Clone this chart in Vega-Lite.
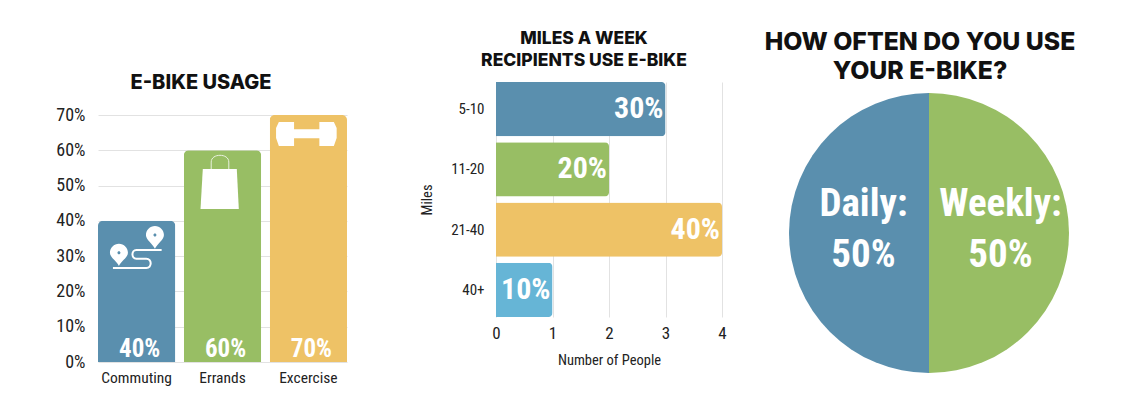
{
  "$schema": "https://vega.github.io/schema/vega-lite/v6.json",
  "padding": {"left": 55, "top": 29, "right": 0, "bottom": 30},
  "bounds": "flush",
  "spacing": 30,
  "background": "white",
  "resolve": {"scale": {"color": "independent"}},
  "datasets": {
    "usage": [
      {"Use": "Commuting", "Share": 0.4},
      {"Use": "Errands", "Share": 0.6},
      {"Use": "Excercise", "Share": 0.7}
    ],
    "miles": [
      {"Miles": "5-10", "People": 3, "Label": "30%"},
      {"Miles": "11-20", "People": 2, "Label": "20%"},
      {"Miles": "21-40", "People": 4, "Label": "40%"},
      {"Miles": "40+", "People": 1, "Label": "10%"}
    ],
    "often": [
      {"Often": "Weekly", "Share": 50, "Label": "Weekly:\n50%", "Rank": 1},
      {"Often": "Daily", "Share": 50, "Label": "Daily:\n50%", "Rank": 2}
    ]
  },
  "hconcat": [
    {
      "width": 249,
      "height": 280,
      "title": {
        "text": "E-BIKE USAGE",
        "font": "Inter",
        "fontWeight": 800,
        "fontSize": 20,
        "color": "#111111",
        "anchor": "middle",
        "dx": -21.5,
        "dy": 15
      },
      "data": {"name": "usage"},
      "encoding": {
        "x": {
          "field": "Use",
          "type": "nominal",
          "sort": null,
          "title": null,
          "scale": {"paddingInner": 0.1, "paddingOuter": 0},
          "axis": {"labelAngle": 0, "labelFontSize": 15.5, "labelFont": "Roboto Condensed", "labelColor": "#222222", "labelPadding": 8, "domain": false, "ticks": false}
        },
        "y": {
          "field": "Share",
          "type": "quantitative",
          "title": null,
          "scale": {"domain": [0, 0.7], "range": [280, 33]},
          "axis": {"values": [0, 0.1, 0.2, 0.3, 0.4, 0.5, 0.6, 0.7], "format": ".0%", "labelFontSize": 18, "labelFont": "Roboto Condensed", "labelColor": "#222222", "labelPadding": 13, "domain": false, "ticks": false, "gridColor": "#e2e2e2"}
        }
      },
      "layer": [
        {
          "mark": {"type": "bar", "cornerRadiusEnd": 5},
          "encoding": {
            "color": {"field": "Use", "type": "nominal", "legend": null, "scale": {"domain": ["Commuting", "Errands", "Excercise"], "range": ["#5A8FAE", "#98BE64", "#EEC266"]}}
          }
        },
        {
          "mark": {"type": "text", "font": "Roboto Condensed", "fontWeight": "bold", "fontSize": 25, "color": "white", "baseline": "bottom", "dx": 3, "dy": 0},
          "encoding": {
            "y": {"datum": 0},
            "text": {"field": "Share", "type": "quantitative", "format": ".0%"}
          }
        },
        {
          "transform": [{"filter": "datum.Use == 'Commuting'"}],
          "mark": {"type": "point", "filled": true, "color": "white", "opacity": 1, "size": 4, "shape": "M-17.7,19 C-20,14 -26.7,10.5 -26.7,5.7 C-26.7,0.7 -22.7,-3.3 -17.7,-3.3 C-12.7,-3.3 -8.7,0.7 -8.7,5.7 C-8.7,10.5 -15.4,14 -17.7,19 Z M-17.7,4.2 C-18.6,4.2 -19.2,4.8 -19.2,5.7 C-19.2,6.6 -18.6,7.2 -17.7,7.2 C-16.8,7.2 -16.2,6.6 -16.2,5.7 C-16.2,4.8 -16.8,4.2 -17.7,4.2 Z M18.3,1.7 C16,-3.3 9.3,-7 9.3,-12 C9.3,-17 13.3,-21 18.3,-21 C23.3,-21 27.3,-17 27.3,-12 C27.3,-7 20.6,-3.3 18.3,1.7 Z M18.3,-13.5 C17.4,-13.5 16.8,-12.9 16.8,-12 C16.8,-11.1 17.4,-10.5 18.3,-10.5 C19.2,-10.5 19.8,-11.1 19.8,-12 C19.8,-12.9 19.2,-13.5 18.3,-13.5 Z"},
          "encoding": {"y": {"datum": 0.326}}
        },
        {
          "transform": [{"filter": "datum.Use == 'Commuting'"}],
          "mark": {"type": "point", "filled": false, "color": "white", "opacity": 1, "strokeWidth": 2, "size": 4, "shape": "M-23.7,21 L9.7,21 C15.5,21 15.5,11.7 9.7,11.7 L-0.3,11.7 C-5.5,11.7 -5.5,3 -0.3,3 L25,3"},
          "encoding": {"y": {"datum": 0.326}}
        },
        {
          "transform": [{"filter": "datum.Use == 'Errands'"}],
          "mark": {"type": "point", "filled": true, "color": "white", "opacity": 1, "size": 4, "shape": "M-19.7,-13 L14.3,-13 L16.3,27 L-22,27 Z"},
          "encoding": {"y": {"datum": 0.51}}
        },
        {
          "transform": [{"filter": "datum.Use == 'Errands'"}],
          "mark": {"type": "point", "filled": false, "color": "white", "opacity": 0.8, "strokeWidth": 1, "size": 4, "shape": "M-11.3,-13 L-11.3,-20 C-11.3,-29 6.3,-29 6.3,-20 L6.3,-13"},
          "encoding": {"y": {"datum": 0.51}}
        },
        {
          "transform": [{"filter": "datum.Use == 'Excercise'"}],
          "mark": {"type": "point", "filled": true, "color": "white", "opacity": 1, "size": 4, "shape": "M-29.5,-12 L-14.3,-12 L-14.3,-4.7 L11,-4.7 L11,-12 L25.5,-12 L28.3,-6 L28.3,4 L25.5,12 L11,12 L11,4.3 L-14.3,4.3 L-14.3,12 L-29.5,12 L-32.3,4 L-32.3,-6 Z"},
          "encoding": {"y": {"datum": 0.646}}
        }
      ]
    },
    {
      "width": 89,
      "height": 1,
      "data": {"values": [{}]},
      "mark": {"type": "rect", "opacity": 0},
      "encoding": {}
    },
    {
      "width": 226,
      "height": 235,
      "title": {
        "text": ["MILES A WEEK", "RECIPIENTS USE E-BIKE"],
        "font": "Inter",
        "fontWeight": 800,
        "fontSize": 17.5,
        "lineHeight": 22,
        "color": "#111111",
        "anchor": "middle",
        "dx": -25,
        "offset": 13
      },
      "data": {"name": "miles"},
      "encoding": {
        "y": {
          "field": "Miles",
          "type": "nominal",
          "sort": null,
          "scale": {"paddingInner": 0.1, "paddingOuter": 0},
          "axis": {"title": "Miles", "titleFont": "Roboto Condensed", "titleFontWeight": "normal", "titleFontSize": 14.5, "titleColor": "#222222", "titlePadding": 16, "labelFontSize": 15, "labelFont": "Roboto Condensed", "labelColor": "#222222", "labelPadding": 12, "domain": false, "ticks": false, "grid": false}
        },
        "x": {
          "field": "People",
          "type": "quantitative",
          "scale": {"domain": [0, 4]},
          "axis": {"title": "Number of People", "values": [0, 1, 2, 3, 4], "labelFlush": false, "titleFont": "Roboto Condensed", "titleFontWeight": "normal", "titleFontSize": 14.5, "titleColor": "#222222", "titlePadding": 12, "labelFontSize": 17, "labelFont": "Roboto Condensed", "labelColor": "#222222", "labelPadding": 8, "domain": false, "ticks": false, "gridColor": "#e2e2e2"}
        }
      },
      "layer": [
        {
          "mark": {"type": "bar", "cornerRadiusEnd": 4},
          "encoding": {
            "color": {"field": "Miles", "type": "nominal", "legend": null, "scale": {"domain": ["5-10", "11-20", "21-40", "40+"], "range": ["#5A8FAE", "#98BE64", "#EEC266", "#66B5D6"]}}
          }
        },
        {
          "mark": {"type": "text", "font": "Roboto Condensed", "fontWeight": "bold", "fontSize": 30, "color": "white", "align": "right", "dx": -2},
          "encoding": {"text": {"field": "Label", "type": "nominal"}}
        }
      ]
    },
    {
      "width": 354,
      "height": 302,
      "title": {
        "text": ["HOW OFTEN DO YOU USE", "YOUR E-BIKE?"],
        "font": "Inter",
        "fontWeight": 800,
        "fontSize": 24.8,
        "lineHeight": 29,
        "color": "#111111",
        "anchor": "middle",
        "dx": -9,
        "dy": 4,
        "offset": 2
      },
      "data": {"name": "often"},
      "encoding": {
        "theta": {"field": "Share", "type": "quantitative", "stack": true},
        "order": {"field": "Rank", "type": "ordinal"}
      },
      "layer": [
        {
          "mark": {"type": "arc", "outerRadius": 140},
          "encoding": {
            "color": {"field": "Often", "type": "nominal", "legend": null, "scale": {"domain": ["Daily", "Weekly"], "range": ["#5A8FAE", "#98BE64"]}}
          }
        },
        {
          "mark": {"type": "text", "radius": 68.5, "font": "Roboto Condensed", "fontWeight": "bold", "fontSize": 39, "lineHeight": 51, "lineBreak": "\n", "color": "white", "dx": 3, "dy": -29},
          "encoding": {"text": {"field": "Label", "type": "nominal"}}
        }
      ]
    }
  ],
  "config": {"view": {"stroke": null}}
}
